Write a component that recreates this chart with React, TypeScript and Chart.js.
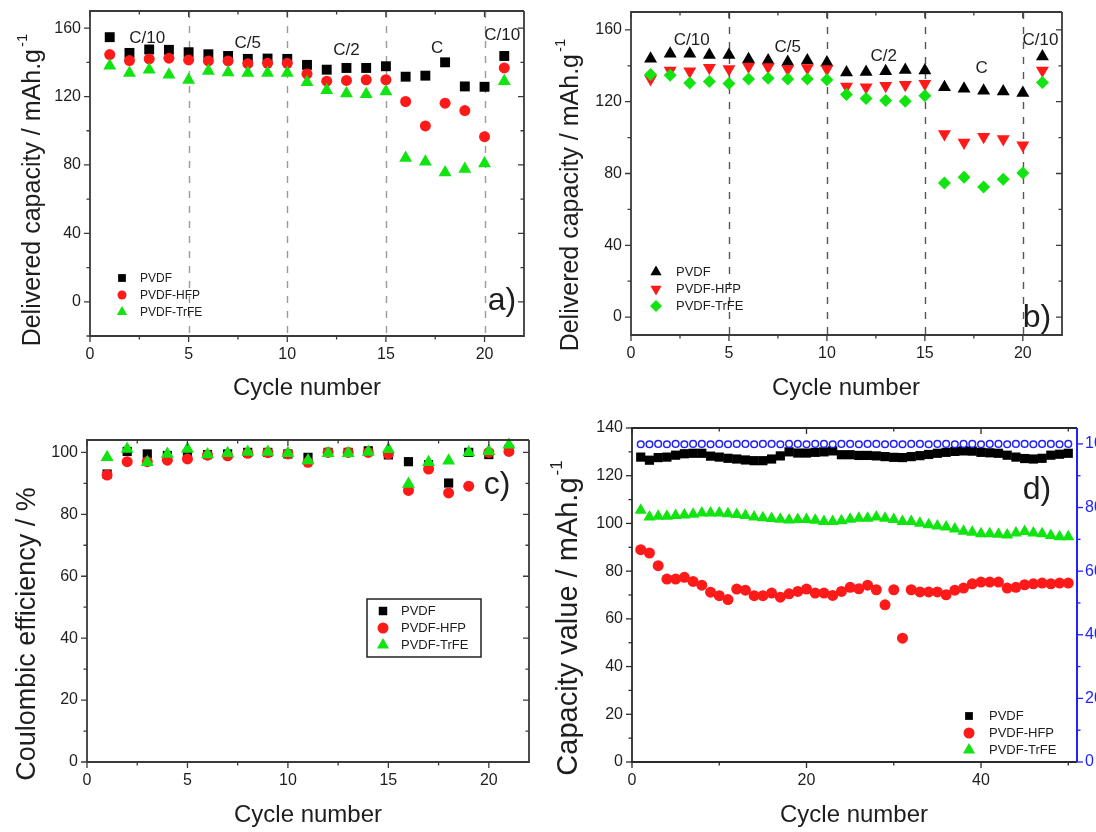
import React, { useEffect, useRef } from 'react';
import { Chart, registerables } from 'chart.js';

Chart.register(...registerables);

const FONT = '"Liberation Sans", Arial, Helvetica, sans-serif';

// ---------------- data ----------------
const cycles = [1, 2, 3, 4, 5, 6, 7, 8, 9, 10, 11, 12, 13, 14, 15, 16, 17, 18, 19, 20, 21];

const aPVDF = [154.7, 145.5, 147.5, 147.3, 145.9, 144.7, 143.7, 142.0, 142.2, 142.0, 138.5, 135.7, 136.7, 136.7, 137.7, 131.6, 132.2, 140.0, 125.9, 125.7, 143.7];
const aHFP = [144.5, 141.0, 142.0, 142.4, 141.4, 140.8, 140.8, 139.2, 139.4, 139.4, 133.2, 129.0, 129.4, 129.8, 129.8, 117.1, 102.8, 116.1, 111.8, 96.5, 136.7];
const aTrFE = [138.0, 133.8, 135.7, 132.8, 129.6, 134.9, 134.0, 133.8, 133.8, 133.8, 128.3, 123.6, 121.8, 121.4, 123.0, 84.0, 81.9, 75.6, 77.6, 80.9, 128.9];

const bPVDF = [143.9, 146.7, 146.7, 146.0, 146.0, 143.7, 143.0, 142.2, 143.0, 141.8, 136.3, 136.6, 137.0, 137.7, 137.4, 128.1, 127.2, 126.1, 125.7, 124.8, 145.2];
const bHFP = [132.7, 137.4, 137.0, 139.0, 138.3, 139.6, 139.3, 138.3, 138.8, 138.3, 128.5, 128.1, 128.9, 129.4, 130.0, 102.0, 97.3, 100.5, 99.2, 95.7, 137.4];
const bTrFE = [135.2, 134.8, 130.5, 131.3, 130.2, 132.7, 133.1, 132.6, 132.6, 132.2, 124.0, 121.8, 120.7, 120.3, 123.3, 74.7, 77.9, 72.5, 76.8, 80.3, 130.7];

const cPVDF = [93.0, 100.3, 99.5, 99.0, 99.6, 99.3, 99.5, 100.0, 100.0, 99.5, 98.4, 100.0, 100.0, 100.5, 99.2, 97.0, 96.0, 90.1, 100.0, 99.3, 101.0];
const cHFP = [92.7, 97.0, 97.0, 97.5, 97.9, 99.1, 98.9, 99.7, 99.9, 99.5, 96.8, 100.0, 100.0, 100.0, 99.5, 87.7, 94.6, 86.9, 89.1, 100.0, 100.3];
const cTrFE = [98.4, 101.1, 96.8, 99.5, 101.1, 99.3, 99.7, 100.1, 100.1, 99.7, 97.4, 99.7, 99.7, 100.1, 101.0, 89.8, 96.8, 97.3, 100.0, 100.4, 102.5];

const dCycles = [1, 2, 3, 4, 5, 6, 7, 8, 9, 10, 11, 12, 13, 14, 15, 16, 17, 18, 19, 20, 21, 22, 23, 24, 25, 26, 27, 28, 29, 30, 31, 32, 33, 34, 35, 36, 37, 38, 39, 40, 41, 42, 43, 44, 45, 46, 47, 48, 49, 50];
const dPVDF = [127.8, 126.5, 127.6, 127.8, 128.6, 129.2, 129.4, 129.4, 128.2, 127.8, 127.3, 127.0, 126.6, 126.3, 126.3, 127.0, 128.3, 130.0, 129.5, 129.5, 129.8, 130.0, 130.4, 128.8, 128.8, 128.5, 128.5, 128.3, 128.0, 127.7, 127.6, 128.0, 128.4, 128.9, 129.4, 129.8, 130.2, 130.4, 130.3, 129.8, 129.6, 129.4, 128.6, 127.8, 127.2, 127.0, 127.3, 128.6, 129.0, 129.4];
const dHFP = [89.0, 87.6, 82.3, 76.7, 76.7, 77.4, 75.7, 74.1, 71.2, 69.7, 68.1, 72.5, 72.0, 69.7, 69.7, 70.8, 69.1, 70.5, 71.5, 72.5, 70.8, 70.8, 69.8, 71.5, 73.2, 72.6, 74.1, 72.2, 65.9, 72.2, 51.9, 72.2, 71.3, 71.3, 71.3, 70.1, 72.0, 72.9, 74.7, 75.4, 75.4, 75.4, 72.9, 73.2, 74.3, 74.7, 75.0, 74.7, 75.0, 75.0];
const dTrFE = [105.5, 102.7, 103.0, 103.0, 103.3, 103.5, 103.8, 104.4, 104.4, 104.4, 104.1, 103.7, 103.3, 102.7, 102.4, 102.1, 101.8, 101.4, 101.6, 101.6, 101.3, 100.8, 100.8, 101.1, 101.8, 102.2, 102.2, 102.7, 102.2, 101.6, 100.8, 100.8, 100.1, 99.4, 98.9, 98.5, 97.7, 96.7, 96.3, 95.7, 95.7, 95.5, 95.2, 96.0, 96.6, 96.0, 95.7, 94.9, 94.4, 94.4];
const dEfficiency = [99.9, 99.9, 100.0, 99.9, 100.0, 99.9, 100.0, 100.0, 99.9, 100.0, 99.9, 100.0, 100.0, 99.9, 100.0, 100.0, 99.9, 100.0, 100.0, 99.9, 100.0, 100.0, 99.9, 100.0, 100.0, 99.9, 100.0, 100.0, 99.9, 100.0, 99.9, 100.0, 100.0, 99.9, 100.0, 100.0, 99.9, 100.0, 100.0, 99.9, 100.0, 100.0, 99.9, 100.0, 100.0, 99.9, 100.0, 100.0, 99.9, 100.0];

const seriesNames = ['PVDF', 'PVDF-HFP', 'PVDF-TrFE'];
const rateLabels = ['C/10', 'C/5', 'C/2', 'C', 'C/10'];
const aRateX = [2.9, 8.0, 13.0, 17.6, 20.9];
const aRateY = [154, 151, 147.3, 148.3, 156];
const bRateX = [3.1, 8.0, 12.9, 17.9, 20.9];
const bRateY = [154.5, 150.4, 145.1, 138.7, 154.5];
const rateBoundaries = [5, 10, 15, 20];

const abXTicks = [0, 5, 10, 15, 20];
const abXMinor = [2.5, 7.5, 12.5, 17.5];
const aYTicks = [0, 40, 80, 120, 160];
const aYMinor = [-20, 20, 60, 100, 140];
const bYTicks = [0, 40, 80, 120, 160];
const bYMinor = [20, 60, 100, 140];
const cYTicks = [0, 20, 40, 60, 80, 100];
const cYMinor = [10, 30, 50, 70, 90];
const dXTicks = [0, 20, 40];
const dXMinor = [10, 30, 50];
const dYTicks = [0, 20, 40, 60, 80, 100, 120, 140];
const dYMinor = [10, 30, 50, 70, 90, 110, 130];
const dY1Ticks = [0, 20, 40, 60, 80, 100];
const dY1Minor = [10, 30, 50, 70, 90];

// ---------------- styles ----------------
const BLACK = '#000000';
const RED = '#ff1a1a';
const GREEN = '#11e411';
const BLUE = '#2222ff';
const TEXT = '#1e1e1e';

type MarkerDef = { style: string; rot: number; r: number; color: string; stroke?: string; lw?: number };

function drawMarker(ctx: CanvasRenderingContext2D, m: MarkerDef, x: number, y: number) {
  const r = m.r;
  ctx.beginPath();
  if (m.style === 'circle') {
    ctx.arc(x, y, r, 0, Math.PI * 2);
  } else if (m.style === 'rect') {
    const s = r * Math.SQRT1_2;
    ctx.rect(x - s, y - s, 2 * s, 2 * s);
  } else if (m.style === 'rectRot') {
    ctx.moveTo(x - r, y);
    ctx.lineTo(x, y - r);
    ctx.lineTo(x + r, y);
    ctx.lineTo(x, y + r);
    ctx.closePath();
  } else {
    let a = (m.rot * Math.PI) / 180;
    for (let k = 0; k < 3; k++) {
      const px = x + Math.sin(a) * r;
      const py = y - Math.cos(a) * r;
      if (k === 0) ctx.moveTo(px, py);
      else ctx.lineTo(px, py);
      a += (2 * Math.PI) / 3;
    }
    ctx.closePath();
  }
  ctx.fillStyle = m.color;
  ctx.fill();
  if (m.stroke) {
    ctx.lineWidth = m.lw || 1;
    ctx.strokeStyle = m.stroke;
    ctx.stroke();
  }
}

function drawYTitle(ctx: CanvasRenderingContext2D, text: string, sup: string, x: number, y: number, size: number) {
  ctx.save();
  ctx.translate(x, y);
  ctx.rotate(-Math.PI / 2);
  ctx.fillStyle = TEXT;
  ctx.textBaseline = 'middle';
  ctx.textAlign = 'left';
  ctx.font = `${size}px ${FONT}`;
  const w1 = ctx.measureText(text).width;
  ctx.font = `${Math.round(size * 0.6)}px ${FONT}`;
  const w2 = sup ? ctx.measureText(sup).width + 2 : 0;
  const start = -(w1 + w2) / 2;
  ctx.font = `${size}px ${FONT}`;
  ctx.fillText(text, start, 0);
  if (sup) {
    ctx.font = `${Math.round(size * 0.6)}px ${FONT}`;
    ctx.fillText(sup, start + w1 + 2, -size * 0.42);
  }
  ctx.restore();
}

type SeriesSpec = { xs: number[]; ys: number[]; label: string; m: MarkerDef; axis?: string; order: number };

type PanelSpec = {
  left: number; top: number; w: number; h: number;
  area: { l: number; t: number; r: number; b: number };
  x: { min: number; max: number; major: number[]; minor: number[] };
  y: { min: number; max: number; major: number[]; minor: number[] };
  y1?: { min: number; max: number; major: number[]; minor: number[]; color: string };
  series: SeriesSpec[];
  frameColor: string;
  dashes?: { values: number[]; color: string };
  rates?: { labels: string[]; xs: number[]; ys: number[]; size: number };
  legend: { mx: number; tx: number; rows: number[]; size: number; items: MarkerDef[]; labels: string[]; box?: { x: number; y: number; w: number; h: number } };
  letter: { text: string; x: number; y: number };
  xTitle: { text: string; x: number; y: number };
  yTitle: { text: string; sup: string; x: number; y: number; size: number };
};

function makeDecor(spec: PanelSpec) {
  return {
    id: 'decor',
    beforeDatasetsDraw(chart: any) {
      if (!spec.dashes) return;
      const { ctx, chartArea: a, scales } = chart;
      ctx.save();
      ctx.strokeStyle = spec.dashes.color;
      ctx.lineWidth = 1.4;
      ctx.setLineDash([7, 8]);
      for (const v of spec.dashes.values) {
        const px = Math.round(scales.x.getPixelForValue(v)) + 0.5;
        ctx.beginPath();
        ctx.moveTo(px, a.top);
        ctx.lineTo(px, a.bottom);
        ctx.stroke();
      }
      ctx.restore();
    },
    afterDraw(chart: any) {
      const { ctx, chartArea: a, scales } = chart;
      ctx.save();
      // frame
      ctx.lineWidth = 1.8;
      ctx.strokeStyle = spec.frameColor;
      ctx.beginPath();
      ctx.moveTo(a.right, a.top);
      ctx.lineTo(a.left, a.top);
      ctx.lineTo(a.left, a.bottom);
      ctx.lineTo(a.right, a.bottom);
      if (!spec.y1) ctx.lineTo(a.right, a.top);
      ctx.stroke();
      if (spec.y1) {
        ctx.strokeStyle = spec.y1.color;
        ctx.lineWidth = 2;
        ctx.beginPath();
        ctx.moveTo(a.right, a.top);
        ctx.lineTo(a.right, a.bottom);
        ctx.stroke();
      }
      // ticks
      const MAJ = 6;
      const MIN = 3.5;
      ctx.lineWidth = 1.3;
      ctx.strokeStyle = spec.frameColor;
      const xTick = (v: number, len: number) => {
        const px = scales.x.getPixelForValue(v);
        ctx.beginPath();
        ctx.moveTo(px, a.bottom);
        ctx.lineTo(px, a.bottom + len);
        ctx.moveTo(px, a.top);
        ctx.lineTo(px, a.top + len);
        ctx.stroke();
      };
      spec.x.major.forEach((v) => xTick(v, MAJ));
      spec.x.minor.forEach((v) => xTick(v, MIN));
      const yTick = (v: number, len: number) => {
        const py = scales.y.getPixelForValue(v);
        ctx.beginPath();
        ctx.moveTo(a.left, py);
        ctx.lineTo(a.left - len, py);
        if (!spec.y1) {
          ctx.moveTo(a.right, py);
          ctx.lineTo(a.right - len, py);
        }
        ctx.stroke();
      };
      spec.y.major.forEach((v) => yTick(v, MAJ));
      spec.y.minor.forEach((v) => yTick(v, MIN));
      if (spec.y1) {
        ctx.strokeStyle = spec.y1.color;
        const y1Tick = (v: number, len: number) => {
          const py = scales.y1.getPixelForValue(v);
          ctx.beginPath();
          ctx.moveTo(a.right, py);
          ctx.lineTo(a.right + len, py);
          ctx.stroke();
        };
        spec.y1.major.forEach((v) => y1Tick(v, MAJ));
        spec.y1.minor.forEach((v) => y1Tick(v, MIN));
      }
      // rate annotations
      ctx.fillStyle = TEXT;
      ctx.textAlign = 'center';
      ctx.textBaseline = 'middle';
      if (spec.rates) {
        ctx.font = `${spec.rates.size}px ${FONT}`;
        spec.rates.labels.forEach((t, i) => {
          ctx.fillText(t, scales.x.getPixelForValue(spec.rates!.xs[i]), scales.y.getPixelForValue(spec.rates!.ys[i]));
        });
      }
      // legend
      const lg = spec.legend;
      if (lg.box) {
        ctx.strokeStyle = '#222';
        ctx.lineWidth = 1.5;
        ctx.strokeRect(lg.box.x, lg.box.y, lg.box.w, lg.box.h);
      }
      ctx.font = `${lg.size}px ${FONT}`;
      ctx.textAlign = 'left';
      lg.items.forEach((m, i) => {
        drawMarker(ctx, m, lg.mx, lg.rows[i]);
        ctx.fillStyle = TEXT;
        ctx.fillText(lg.labels[i], lg.tx, lg.rows[i] + 0.5);
      });
      // panel letter
      ctx.font = `32px ${FONT}`;
      ctx.textAlign = 'center';
      ctx.fillStyle = TEXT;
      ctx.fillText(spec.letter.text, spec.letter.x, spec.letter.y);
      // axis titles
      ctx.font = `24px ${FONT}`;
      ctx.fillText(spec.xTitle.text, spec.xTitle.x, spec.xTitle.y);
      drawYTitle(ctx, spec.yTitle.text, spec.yTitle.sup, spec.yTitle.x, spec.yTitle.y, spec.yTitle.size);
      ctx.restore();
    },
  };
}

function zeroPad(s: any) {
  s.paddingLeft = 0;
  s.paddingRight = 0;
  s.paddingTop = 0;
  s.paddingBottom = 0;
}

function buildConfig(spec: PanelSpec): any {
  const tickFont = { family: FONT, size: 16 };
  const scales: any = {
    x: {
      type: 'linear',
      position: 'bottom',
      min: spec.x.min,
      max: spec.x.max,
      grid: { display: false, drawTicks: false },
      border: { display: false },
      ticks: { font: tickFont, color: TEXT, padding: 9, autoSkip: false, maxRotation: 0, minRotation: 0 },
      afterBuildTicks: (s: any) => { s.ticks = spec.x.major.map((v) => ({ value: v })); },
      afterFit: (s: any) => { s.height = spec.h - spec.area.b; zeroPad(s); },
    },
    y: {
      type: 'linear',
      position: 'left',
      min: spec.y.min,
      max: spec.y.max,
      grid: { display: false, drawTicks: false },
      border: { display: false },
      ticks: { font: tickFont, color: TEXT, padding: 9, autoSkip: false },
      afterBuildTicks: (s: any) => { s.ticks = spec.y.major.map((v) => ({ value: v })); },
      afterFit: (s: any) => { s.width = spec.area.l; zeroPad(s); },
    },
  };
  if (spec.y1) {
    const y1 = spec.y1;
    scales.y1 = {
      type: 'linear',
      position: 'right',
      min: y1.min,
      max: y1.max,
      grid: { display: false, drawTicks: false },
      border: { display: false },
      ticks: { font: tickFont, color: y1.color, padding: 8, autoSkip: false },
      afterBuildTicks: (s: any) => { s.ticks = y1.major.map((v) => ({ value: v })); },
      afterFit: (s: any) => { s.width = spec.w - spec.area.r; zeroPad(s); },
    };
  }
  return {
    type: 'scatter',
    data: {
      datasets: spec.series.map((s) => ({
        label: s.label,
        data: s.xs.map((x, i) => ({ x, y: s.ys[i] })),
        yAxisID: s.axis || 'y',
        pointStyle: s.m.style,
        pointRotation: s.m.rot,
        pointRadius: s.m.r,
        pointHoverRadius: s.m.r,
        pointBackgroundColor: s.m.color,
        pointBorderColor: s.m.stroke || s.m.color,
        pointBorderWidth: s.m.stroke ? s.m.lw : 0,
        showLine: false,
        clip: false,
        order: s.order,
      })),
    },
    options: {
      responsive: false,
      animation: false,
      devicePixelRatio: 1,
      layout: { padding: { top: spec.area.t, right: spec.y1 ? 0 : spec.w - spec.area.r, left: 0, bottom: 0 } },
      plugins: { legend: { display: false }, tooltip: { enabled: false }, title: { display: false } },
      scales,
    },
    plugins: [makeDecor(spec)],
  };
}

// ---------------- panel specs ----------------
const mA = {
  sq: { style: 'rect', rot: 0, r: 7, color: BLACK },
  ci: { style: 'circle', rot: 0, r: 5.5, color: RED },
  tr: { style: 'triangle', rot: 0, r: 7.5, color: GREEN },
};
const mB = {
  up: { style: 'triangle', rot: 0, r: 7.5, color: BLACK },
  dn: { style: 'triangle', rot: 180, r: 7.5, color: RED },
  di: { style: 'rectRot', rot: 0, r: 6.5, color: GREEN },
};
const mC = {
  sq: { style: 'rect', rot: 0, r: 6.5, color: BLACK },
  ci: { style: 'circle', rot: 0, r: 5.5, color: RED },
  tr: { style: 'triangle', rot: 0, r: 7.5, color: GREEN },
};
const mD = {
  sq: { style: 'rect', rot: 0, r: 6.5, color: BLACK },
  ci: { style: 'circle', rot: 0, r: 5.5, color: RED },
  tr: { style: 'triangle', rot: 0, r: 7, color: GREEN },
  ef: { style: 'circle', rot: 0, r: 3.3, color: '#ffffff', stroke: BLUE, lw: 1.5 },
};

const panelA: PanelSpec = {
  left: 0, top: 0, w: 548, h: 410,
  area: { l: 90, t: 11, r: 524, b: 336 },
  x: { min: 0, max: 22, major: abXTicks, minor: abXMinor },
  y: { min: -20, max: 170, major: aYTicks, minor: aYMinor },
  series: [
    { xs: cycles, ys: aPVDF, label: seriesNames[0], m: mA.sq, order: 3 },
    { xs: cycles, ys: aHFP, label: seriesNames[1], m: mA.ci, order: 2 },
    { xs: cycles, ys: aTrFE, label: seriesNames[2], m: mA.tr, order: 1 },
  ],
  frameColor: '#3a3a3a',
  dashes: { values: rateBoundaries, color: '#9a9a9a' },
  rates: { labels: rateLabels, xs: aRateX, ys: aRateY, size: 17 },
  legend: {
    mx: 122, tx: 140, rows: [278, 295, 312], size: 12,
    items: [{ ...mA.sq, r: 5.5 }, { ...mA.ci, r: 4.5 }, { ...mA.tr, r: 6 }], labels: seriesNames,
  },
  letter: { text: 'a)', x: 502, y: 301 },
  xTitle: { text: 'Cycle number', x: 307, y: 388 },
  yTitle: { text: 'Delivered capacity / mAh.g', sup: '-1', x: 33, y: 190, size: 25 },
};

const panelB: PanelSpec = {
  left: 548, top: 0, w: 548, h: 410,
  area: { l: 83, t: 12, r: 514, b: 335 },
  x: { min: 0, max: 22, major: abXTicks, minor: abXMinor },
  y: { min: -10, max: 170, major: bYTicks, minor: bYMinor },
  series: [
    { xs: cycles, ys: bPVDF, label: seriesNames[0], m: mB.up, order: 3 },
    { xs: cycles, ys: bHFP, label: seriesNames[1], m: mB.dn, order: 2 },
    { xs: cycles, ys: bTrFE, label: seriesNames[2], m: mB.di, order: 1 },
  ],
  frameColor: '#3a3a3a',
  dashes: { values: rateBoundaries, color: '#555555' },
  rates: { labels: rateLabels, xs: bRateX, ys: bRateY, size: 17 },
  legend: {
    mx: 108, tx: 128, rows: [272, 289, 306], size: 13,
    items: [{ ...mB.up, r: 6.5 }, { ...mB.dn, r: 6.5 }, { ...mB.di, r: 6 }], labels: seriesNames,
  },
  letter: { text: 'b)', x: 489, y: 318 },
  xTitle: { text: 'Cycle number', x: 298, y: 388 },
  yTitle: { text: 'Delivered capacity / mAh.g', sup: '-1', x: 23, y: 195, size: 25 },
};

const panelC: PanelSpec = {
  left: 0, top: 410, w: 548, h: 422,
  area: { l: 87, t: 30, r: 529, b: 352 },
  x: { min: 0, max: 22, major: abXTicks, minor: abXMinor },
  y: { min: 0, max: 104, major: cYTicks, minor: cYMinor },
  series: [
    { xs: cycles, ys: cPVDF, label: seriesNames[0], m: mC.sq, order: 3 },
    { xs: cycles, ys: cHFP, label: seriesNames[1], m: mC.ci, order: 2 },
    { xs: cycles, ys: cTrFE, label: seriesNames[2], m: mC.tr, order: 1 },
  ],
  frameColor: '#3a3a3a',
  legend: {
    mx: 383, tx: 401, rows: [201, 218, 235], size: 13,
    items: [{ ...mC.sq, r: 6 }, { ...mC.ci, r: 5.5 }, { ...mC.tr, r: 7 }], labels: seriesNames,
    box: { x: 367, y: 189, w: 114, h: 58 },
  },
  letter: { text: 'c)', x: 497, y: 75 },
  xTitle: { text: 'Cycle number', x: 308, y: 405 },
  yTitle: { text: 'Coulombic efficiency / %', sup: '', x: 28, y: 224, size: 27 },
};

const panelD: PanelSpec = {
  left: 548, top: 410, w: 562, h: 422,
  area: { l: 84, t: 18, r: 529, b: 352 },
  x: { min: 0, max: 51, major: dXTicks, minor: dXMinor },
  y: { min: 0, max: 140, major: dYTicks, minor: dYMinor },
  y1: { min: 0, max: 105, major: dY1Ticks, minor: dY1Minor, color: BLUE },
  series: [
    { xs: dCycles, ys: dEfficiency, label: 'Coulombic efficiency', m: mD.ef, axis: 'y1', order: 0 },
    { xs: dCycles, ys: dPVDF, label: seriesNames[0], m: mD.sq, order: 3 },
    { xs: dCycles, ys: dHFP, label: seriesNames[1], m: mD.ci, order: 2 },
    { xs: dCycles, ys: dTrFE, label: seriesNames[2], m: mD.tr, order: 1 },
  ],
  frameColor: '#2a2a2a',
  legend: {
    mx: 421, tx: 441, rows: [306, 323, 340], size: 13,
    items: [{ ...mD.sq, r: 5.5 }, { ...mD.ci, r: 5.5 }, { ...mD.tr, r: 7 }], labels: seriesNames,
  },
  letter: { text: 'd)', x: 489, y: 80 },
  xTitle: { text: 'Cycle number', x: 306, y: 405 },
  yTitle: { text: 'Capacity value / mAh.g', sup: '-1', x: 21, y: 208, size: 29 },
};

function Panel({ spec }: { spec: PanelSpec }) {
  const ref = useRef<HTMLCanvasElement | null>(null);
  useEffect(() => {
    if (!ref.current) return;
    const chart = new Chart(ref.current, buildConfig(spec));
    return () => chart.destroy();
  }, [spec]);
  return (
    <canvas
      ref={ref}
      width={spec.w}
      height={spec.h}
      style={{ position: 'absolute', left: spec.left, top: spec.top, width: spec.w, height: spec.h }}
    />
  );
}

export default function App() {
  return (
    <div style={{ position: 'fixed', left: 0, top: 0, width: 1096, height: 832, overflow: 'hidden', background: '#ffffff' }}>
      <Panel spec={panelA} />
      <Panel spec={panelB} />
      <Panel spec={panelC} />
      <Panel spec={panelD} />
    </div>
  );
}
